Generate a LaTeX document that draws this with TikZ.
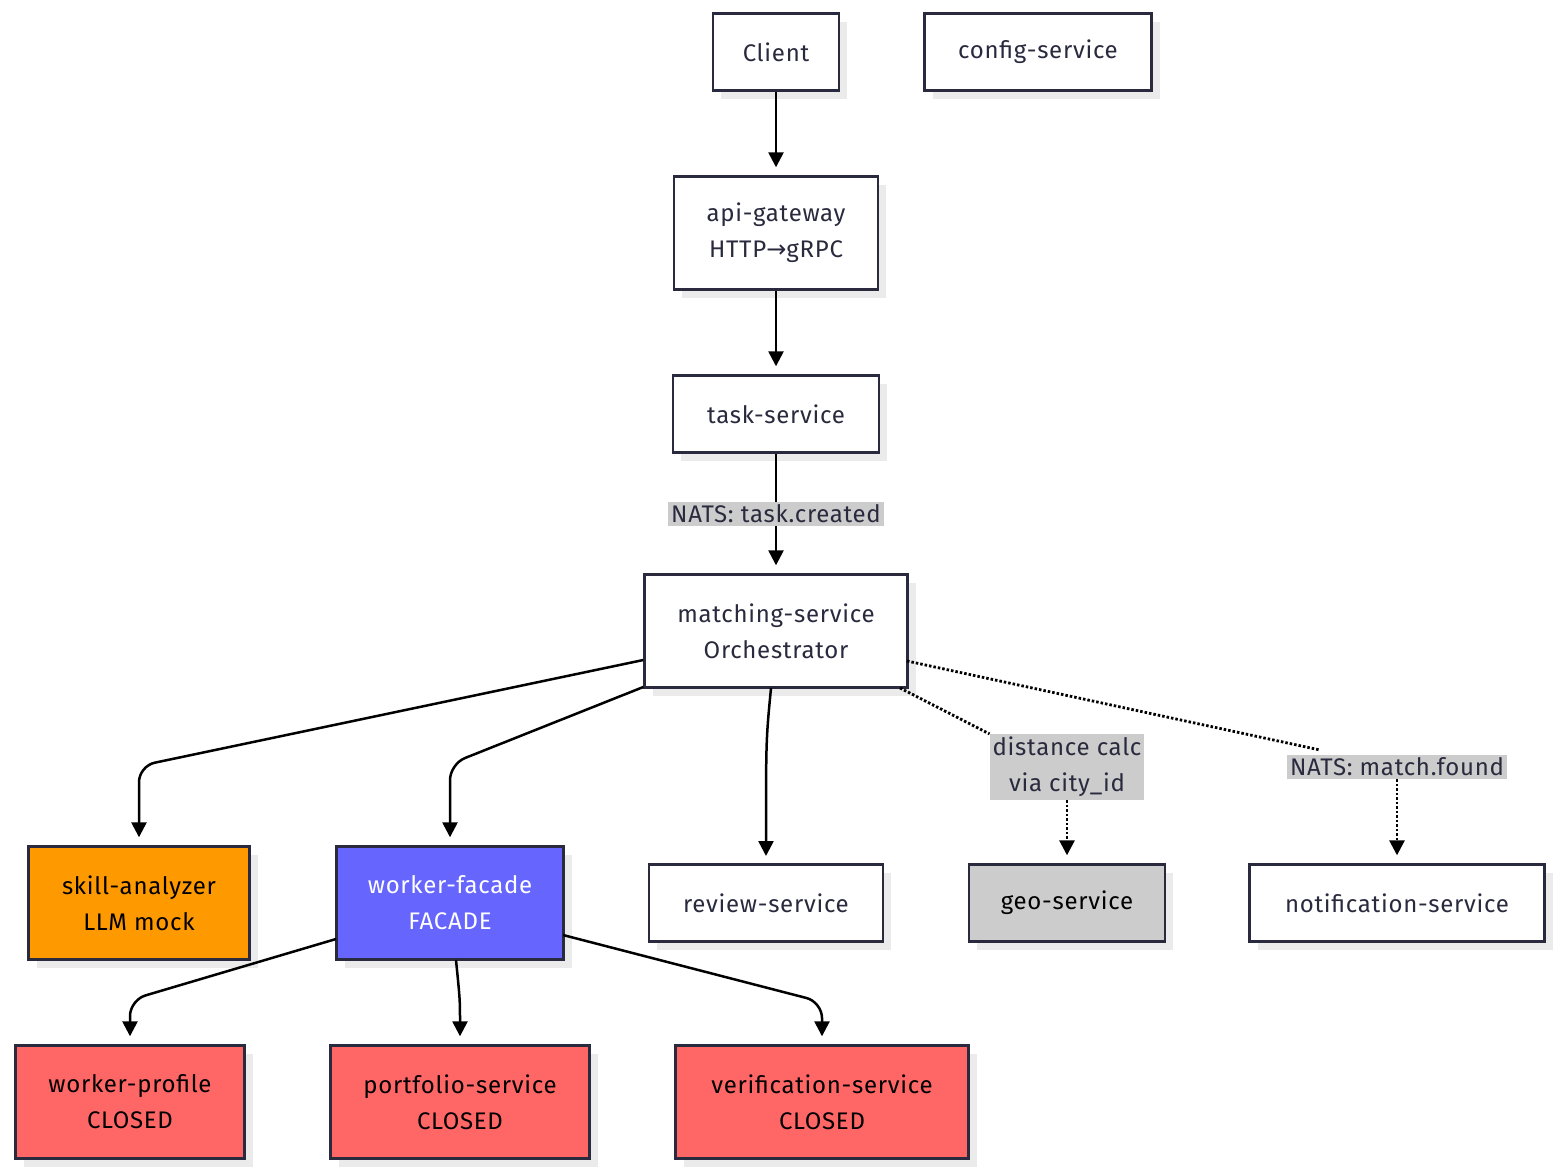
\documentclass[tikz,border=0pt]{standalone}
\usepackage{fontspec}
\setmainfont{Fira Sans}[LetterSpace=3]
\newfontfamily\djfont{DejaVu Sans}
\usetikzlibrary{arrows.meta,shadows}
\definecolor{ink}{HTML}{2A2A3E}
\begin{document}
\begin{tikzpicture}[x=1pt,y=-1pt,
 box/.style={draw=ink,line width=2.4pt,fill=white,align=center,inner sep=0pt,
   font=\fontsize{24}{36}\selectfont,text=ink,
   drop shadow={shadow xshift=8pt,shadow yshift=-8pt,fill=black!8,opacity=1}},
 lbl/.style={fill=black!20,align=center,inner sep=3pt,font=\fontsize{24}{36}\selectfont,text=ink},
 arr/.style={line width=2.5pt,-{Triangle[length=15pt,width=15pt]},shorten >=8pt},
 dot/.style={arr,dotted,line width=2.8pt},
 ln/.style={line width=2.5pt},
 dln/.style={ln,dotted,line width=2.8pt},
 rc/.style={rounded corners=16pt}]
\useasboundingbox (0,0) rectangle (1560,1173);
\node[box,minimum width=126pt,minimum height=77pt] (client) at (776,52) {Client};
\node[box,minimum width=227pt,minimum height=77pt] (config) at (1038,52) {config-service};
\node[box,minimum width=204pt,minimum height=113pt] (api) at (776,233) {api-gateway\\HTTP{\djfont→}gRPC};
\node[box,minimum width=206pt,minimum height=77pt] (task) at (776,414) {task-service};
\node[box,minimum width=263pt,minimum height=113pt] (match) at (776,631) {matching-service\\Orchestrator};
\node[box,fill={rgb,255:red,255;green,153;blue,0},text=black,minimum width=221pt,minimum height=113pt] (skill) at (139,903) {skill-analyzer\\LLM mock};
\node[box,fill={rgb,255:red,102;green,102;blue,255},text=white,minimum width=227pt,minimum height=113pt] (wf) at (450,903) {worker-facade\\FACADE};
\node[box,minimum width=234pt,minimum height=77pt] (review) at (766,903) {review-service};
\node[box,fill=black!20,text=black,minimum width=196pt,minimum height=77pt] (geo) at (1067,903) {geo-service};
\node[box,minimum width=295pt,minimum height=77pt] (notif) at (1397,903) {notification-service};
\node[box,fill={rgb,255:red,255;green,102;blue,102},text=black,minimum width=229pt,minimum height=113pt] (wp) at (130,1102) {worker-profile\\CLOSED};
\node[box,fill={rgb,255:red,255;green,102;blue,102},text=black,minimum width=259pt,minimum height=113pt] (pf) at (460,1102) {portfolio-service\\CLOSED};
\node[box,fill={rgb,255:red,255;green,102;blue,102},text=black,minimum width=293pt,minimum height=113pt] (vs) at (822,1102) {verification-service\\CLOSED};
\draw[arr] (client) -- (api);
\draw[arr] (api) -- (task);
\node[lbl] (l1) at (776,514) {NATS: task.created};
\draw[ln] (task) -- (l1);
\draw[arr] (l1) -- (match);
\draw[arr,rc] (match.west |- 0,660) -- (139,766) -- (skill.north);
\draw[arr,rc] (match.west |- 0,687) -- (450,764) -- (wf.north);
\draw[arr] (771,688) .. controls (766,740) .. (766,864);
\node[lbl] (l2) at (1067,767) {distance calc\\via city\_id};
\node[lbl] (l3) at (1397,767) {NATS: match.found};
\draw[dln] (900,688) -- (l2.north west);
\draw[dot] (l2) -- (geo);
\draw[dln] (907,661) -- (1320,750);
\draw[dot] (l3) -- (notif);
\draw[arr,rc] (336,939) -- (130,1000) -- (wp.north);
\draw[arr] (456,960) .. controls (460,1000) .. (pf.north);
\draw[arr,rc] (563,935) -- (822,1002) -- (vs.north);
\end{tikzpicture}
\end{document}
